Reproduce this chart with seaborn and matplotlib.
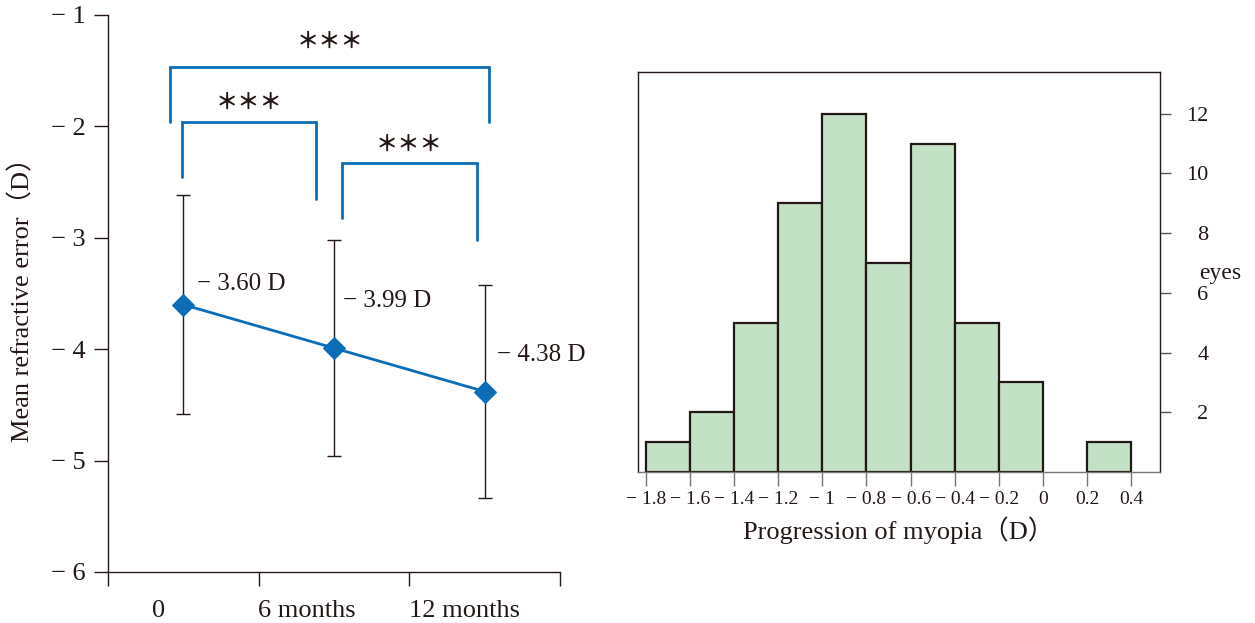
import numpy as np
import pandas as pd
import matplotlib
matplotlib.use("Agg")
import matplotlib.pyplot as plt
import seaborn as sns

# ---------------- data ----------------
months = [0, 6, 12]
time_labels = ["0", "6 months", "12 months"]
mean_re = [-3.60, -3.99, -4.38]
sd_re = [0.98, 0.97, 0.96]
value_labels = ["− 3.60 D", "− 3.99 D", "− 4.38 D"]
left_yticks = [-1, -2, -3, -4, -5, -6]
left_yticklabels = ["− 1", "− 2", "− 3", "− 4", "− 5", "− 6"]
sig_text = "＊＊＊"

bin_edges = [-1.8, -1.6, -1.4, -1.2, -1.0, -0.8, -0.6, -0.4, -0.2, 0.0, 0.2, 0.4]
eye_counts = [1, 2, 5, 9, 12, 7, 11, 5, 3, 0, 1]
hist_xticklabels = ["− 1.8", "− 1.6", "− 1.4", "− 1.2", "− 1", "− 0.8", "− 0.6",
                    "− 0.4", "− 0.2", "0", "0.2", "0.4"]
right_yticks = [2, 4, 6, 8, 10, 12]

# ---------------- style ----------------
sns.set_theme(style="white")
plt.rcParams["font.family"] = ["Liberation Serif", "Noto Sans CJK JP", "DejaVu Sans"]
TXT = "#231815"
BLUE = "#0b6cb8"
GREEN = "#c3e1c5"
plt.rcParams["text.color"] = TXT

fig = plt.figure(figsize=(12.55, 6.23), dpi=100)
ax1 = fig.add_axes([108 / 1255, 51 / 623, 452 / 1255, 557 / 623])
ax2 = fig.add_axes([638 / 1255, 151 / 623, 522 / 1255, 400 / 623])

# ---------------- left panel ----------------
df = pd.DataFrame({"month": months, "mean": mean_re, "sd": sd_re})
ax1.errorbar(df["month"], df["mean"], yerr=df["sd"], fmt="none",
             ecolor=TXT, elinewidth=1.0, capsize=5, capthick=1.0, zorder=2)
sns.lineplot(data=df, x="month", y="mean", ax=ax1, color=BLUE, lw=2,
             marker="D", markersize=11, markeredgecolor=BLUE, zorder=3)

label_off = [(0.56, 0.185), (0.37, 0.42), (0.5, 0.33)]
for m, v, t, (dx, dy) in zip(months, mean_re, value_labels, label_off):
    ax1.text(m + dx, v + dy, t, fontsize=18, ha="left", va="center", color=TXT)

# significance brackets: (x0, x1, top, leg0_bottom, leg1_bottom, star_y)
brackets = [
    (-0.52, 12.17, -1.47, -1.96, -1.96, -1.24),
    (-0.04, 5.30, -1.96, -2.45, -2.65, -1.78),
    (6.30, 11.70, -2.33, -2.82, -3.02, -2.16),
]
for x0, x1, top, b0, b1, sy in brackets:
    ax1.plot([x0, x0, x1, x1], [b0, top, top, b1], color=BLUE, lw=2,
             solid_joinstyle="miter", zorder=2)
    ax1.text((x0 + x1) / 2, sy, sig_text, fontsize=16, ha="center", va="center",
             color=TXT, fontweight="bold",
             family=["Noto Sans CJK JP", "DejaVu Sans"])

ax1.set_xlim(-3, 15)
ax1.set_ylim(-6, -1)
ax1.set_xticks([-3, 3, 9, 15])
ax1.set_xticklabels([])
ax1.set_xticks([-1.0, 4.9, 11.2], labels=time_labels, minor=True)
ax1.set_yticks(left_yticks)
ax1.set_yticklabels(left_yticklabels)
ax1.tick_params(axis="x", which="major", direction="out", length=10, width=1,
                color=TXT, bottom=True)
ax1.tick_params(axis="x", which="minor", length=0, pad=20, labelsize=19,
                labelcolor=TXT, bottom=True)
ax1.tick_params(axis="y", direction="out", length=10, width=1, color=TXT,
                pad=6, labelsize=19, labelcolor=TXT, left=True)
for s in ["top", "right"]:
    ax1.spines[s].set_visible(False)
for s in ["left", "bottom"]:
    ax1.spines[s].set_color(TXT)
    ax1.spines[s].set_linewidth(1)
ax1.set_xlabel("")
ax1.set_ylabel("Mean refractive error（D）", fontsize=19, color=TXT)
ax1.yaxis.set_label_coords(-0.162, 0.5)

# ---------------- right panel ----------------
centers = [(a + b) / 2 for a, b in zip(bin_edges[:-1], bin_edges[1:])]
sns.histplot(x=centers, weights=eye_counts, bins=bin_edges, ax=ax2,
             color=GREEN, edgecolor=TXT, linewidth=1.6, alpha=1)
for p in ax2.patches:
    if p.get_height() == 0:
        p.set_visible(False)
ax2.set_xlim(-1.836, 0.531)
ax2.set_ylim(0, 13.4)
ax2.set_xticks(bin_edges)
ax2.set_xticklabels(hist_xticklabels)
ax2.yaxis.tick_right()
ax2.set_yticks(right_yticks)
ax2.set_yticklabels([str(v) for v in right_yticks], ha="right")
ax2.tick_params(axis="x", direction="out", length=10, width=1, color="#777777",
                pad=4, labelsize=14, labelcolor=TXT, bottom=True)
ax2.tick_params(axis="y", direction="out", length=8, width=1, color="#555555",
                pad=27, labelsize=16, labelcolor=TXT, right=True, left=False)
for s in ["top", "right", "left"]:
    ax2.spines[s].set_color(TXT)
    ax2.spines[s].set_linewidth(1)
ax2.spines["bottom"].set_color("#777777")
ax2.spines["bottom"].set_linewidth(1)
ax2.set_xlabel("Progression of myopia（D）", fontsize=19, color=TXT, labelpad=6)
ax2.set_ylabel("eyes", fontsize=17, color=TXT, rotation=0)
ax2.yaxis.set_label_position("right")
ax2.yaxis.set_label_coords(1.115, 0.5225)

fig.savefig("out.png", dpi=100)
